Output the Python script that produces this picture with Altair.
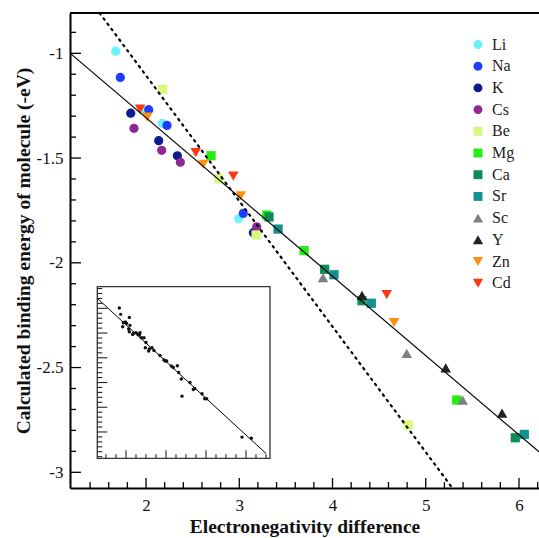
import altair as alt
import pandas as pd

W, H = 469, 475
FONT = "Liberation Serif"

# ---------------- data ----------------
elements = ["Li", "Na", "K", "Cs", "Be", "Mg", "Ca", "Sr", "Sc", "Y", "Zn", "Cd"]
el_colors = ["#6cf2fc", "#1f3dff", "#0b1d8c", "#8e2896", "#d8f97e", "#22ee11",
             "#0e8c55", "#139090", "#808080", "#222222", "#ff8f10", "#fb3a14"]
TRI_UP = "M0,-1L1.15,1L-1.15,1Z"
TRI_DOWN = "M-1.15,-1L1.15,-1L0,1Z"
el_shapes = ["circle"] * 4 + ["square"] * 4 + [TRI_UP] * 2 + [TRI_DOWN] * 2

el_x = {
    "Li": [1.675, 1.973, 2.175, 2.994],
    "Na": [1.724, 2.029, 2.225, 3.043],
    "K":  [1.836, 2.136, 2.336, 3.151],
    "Cs": [1.871, 2.168, 2.368, 3.187],
    "Be": [2.179, 2.780, 3.180, 4.813],
    "Mg": [2.697, 3.294, 3.695, 5.332],
    "Ca": [3.319, 3.916, 4.316, 5.960],
    "Sr": [3.416, 4.016, 4.416, 6.057],
    "Sc": [3.898, 4.796, 5.396],
    "Y":  [4.316, 5.214, 5.818],
    "Zn": [2.014, 2.614, 3.016, 4.660],
    "Cd": [1.936, 2.533, 2.936, 4.581],
}
el_y = {
    "Li": [-0.990, -1.273, -1.334, -1.790],
    "Na": [-1.115, -1.269, -1.344, -1.764],
    "K":  [-1.286, -1.417, -1.489, -1.856],
    "Cs": [-1.358, -1.463, -1.520, -1.828],
    "Be": [-1.172, -1.599, -1.867, -2.774],
    "Mg": [-1.489, -1.772, -1.942, -2.655],
    "Ca": [-1.781, -2.031, -2.181, -2.835],
    "Sr": [-1.839, -2.057, -2.193, -2.819],
    "Sc": [-2.071, -2.432, -2.655],
    "Y":  [-2.155, -2.502, -2.718],
    "Zn": [-1.305, -1.530, -1.681, -2.286],
    "Cd": [-1.266, -1.474, -1.586, -2.152],
}

# fitted lines (end points)
solid_x = [1.1845, 6.2145]
solid_y = [-0.9990, -2.9025]
dotted_x = [1.5020, 5.2854]
dotted_y = [-0.8076, -3.0749]

# axis ticks
x_major = [2, 3, 4, 5, 6]
x_minor = [1.4, 1.6, 1.8, 2.2, 2.4, 2.6, 2.8, 3.2, 3.4, 3.6, 3.8, 4.2, 4.4, 4.6, 4.8,
           5.2, 5.4, 5.6, 5.8, 6.2]
y_major = [-3, -2.5, -2, -1.5, -1]
y_minor = [-2.9, -2.8, -2.7, -2.6, -2.4, -2.3, -2.2, -2.1, -1.9, -1.8, -1.7, -1.6,
           -1.4, -1.3, -1.2, -1.1, -0.9]

# inset data
inset_px = [0.833, 0.867, 1.083, 0.933, 0.983, 1.017, 0.917, 1.100, 1.067, 1.083,
            1.183, 1.167, 1.250, 1.300, 1.350, 1.333, 1.383, 1.450, 1.500, 1.483,
            1.567, 1.583, 1.650, 1.700, 1.850, 1.950, 1.983, 2.017, 2.133, 2.183,
            2.283, 2.317, 2.383, 2.600, 2.683, 2.717, 2.400, 2.900, 2.967, 3.017,
            3.900, 4.133]
inset_py = [-0.988, -1.244, -1.366, -1.582, -1.555, -1.608, -1.743, -1.689, -1.838, -1.946,
            -2.013, -2.054, -1.987, -2.054, -1.987, -2.081, -2.189, -2.189, -2.378, -2.594,
            -2.729, -2.648, -2.594, -2.702, -2.904, -3.093, -3.134, -3.134, -3.336, -3.390,
            -3.323, -3.592, -3.862, -3.997, -4.281, -4.240, -4.551, -4.453, -4.656, -4.656,
            -6.208, -6.251]
inset_line_x = [0.283, 4.5]
inset_line_y = [-0.596, -6.870]
inset_x_dom = [0.2825, 4.6]
inset_y_dom = [-7.065, -0.125]
inset_x_major = [1, 2, 3, 4]
inset_x_minor = [0.5, 0.75, 1.25, 1.5, 1.75, 2.25, 2.5, 2.75, 3.25, 3.5, 3.75, 4.25, 4.5]
inset_y_major = [-6, -5, -4, -3, -2, -1]
inset_y_minor = [-7.0, -6.8, -6.6, -6.4, -6.2, -5.8, -5.6, -5.4, -5.2, -4.8, -4.6, -4.4,
                 -4.2, -3.8, -3.6, -3.4, -3.2, -2.8, -2.6, -2.4, -2.2, -1.8, -1.6, -1.4,
                 -1.2, -0.8, -0.6, -0.4, -0.2]

# ---------------- tables ----------------
pts_df = pd.DataFrame([{"el": e, "x": xv, "y": yv}
                       for e in elements for xv, yv in zip(el_x[e], el_y[e])])
solid_df = pd.DataFrame({"x": solid_x, "y": solid_y})
dotted_df = pd.DataFrame({"x": dotted_x, "y": dotted_y})

# ---------------- main panel ----------------
main_x = alt.Scale(domain=[1.1845, 6.2145], nice=False, zero=False)
main_y = alt.Scale(domain=[-3.0749, -0.8076], nice=False, zero=False)

x_axis = alt.Axis(values=x_major, title="Electronegativity difference", ticks=False, tickSize=0,
                  grid=False, domainColor="black", domainWidth=2,
                  labelFont=FONT, labelFontSize=17, labelColor="#111",
                  labelBaseline="alphabetic", labelPadding=22,
                  titleFont=FONT, titleFontSize=19.5, titleFontWeight="bold", titleColor="#111",
                  titleX=W / 2, titleY=44, titleAlign="center", titleBaseline="alphabetic")
y_axis = alt.Axis(values=y_major, title="Calculated binding energy of molecule (-eV)",
                  ticks=False, tickSize=0, grid=False, domainColor="black", domainWidth=2,
                  labelFont=FONT, labelFontSize=17, labelColor="#111", labelPadding=7,
                  labelExpr="'' + datum.value",
                  titleFont=FONT, titleFontSize=19.5, titleFontWeight="bold", titleColor="#111",
                  titleX=-47, titleY=H / 2, titleAngle=270, titleAlign="center",
                  titleBaseline="middle")

legend = alt.Legend(title=None, orient="none", legendX=400, legendY=23.5, padding=0,
                    labelFont=FONT, labelFontSize=16, labelColor="#222",
                    symbolSize=80, symbolStrokeWidth=0, rowPadding=5.7, labelOffset=6)

top_rule = alt.Chart(pd.DataFrame({"k": [0]})).mark_rule(color="black", strokeWidth=2).encode(
    x=alt.value(0), x2=alt.value(W), y=alt.value(0))

def xticks(vals, length):
    return alt.Chart(pd.DataFrame({"x": vals})).mark_rule(color="black", strokeWidth=1.3).encode(
        x=alt.X("x:Q", scale=main_x, axis=x_axis),
        y=alt.value(H), y2=alt.value(H - length))

def yticks(vals, length):
    return alt.Chart(pd.DataFrame({"y": vals})).mark_rule(color="black", strokeWidth=1.3).encode(
        y=alt.Y("y:Q", scale=main_y, axis=y_axis),
        x=alt.value(0), x2=alt.value(length))

points = alt.Chart(pts_df).mark_point(filled=True, size=85, opacity=1).encode(
    x=alt.X("x:Q", scale=main_x, axis=x_axis),
    y=alt.Y("y:Q", scale=main_y, axis=y_axis),
    color=alt.Color("el:N", scale=alt.Scale(domain=elements, range=el_colors), legend=legend),
    shape=alt.Shape("el:N", scale=alt.Scale(domain=elements, range=el_shapes), legend=legend),
)

solid = alt.Chart(solid_df).mark_line(color="black", strokeWidth=1.2).encode(
    x=alt.X("x:Q", scale=main_x, axis=x_axis),
    y=alt.Y("y:Q", scale=main_y, axis=y_axis))

dotted = alt.Chart(dotted_df).mark_line(color="black", strokeWidth=2.2, strokeDash=[1.6, 5],
                                        strokeCap="round").encode(
    x=alt.X("x:Q", scale=main_x, axis=x_axis),
    y=alt.Y("y:Q", scale=main_y, axis=y_axis))

main = alt.layer(top_rule, xticks(x_minor, 6), xticks(x_major, 10),
                 yticks(y_minor, 6), yticks(y_major, 11), points, solid, dotted)

# ---------------- inset ----------------
INS_L, INS_R, INS_B, INS_T = 27.3, 200, 445.3, 273.7
inset_x = alt.Scale(domain=inset_x_dom, range=[INS_L, INS_R], nice=False, zero=False)
inset_y = alt.Scale(domain=inset_y_dom, range=[INS_B, INS_T], nice=False, zero=False)

frame = alt.Chart(pd.DataFrame({"x": [inset_x_dom[0]], "x2": [inset_x_dom[1]],
                                "y": [inset_y_dom[0]], "y2": [inset_y_dom[1]]})).mark_rect(
    fill="white", stroke="#333", strokeWidth=1.3).encode(
    x=alt.X("x:Q", scale=inset_x, axis=None), x2="x2:Q",
    y=alt.Y("y:Q", scale=inset_y, axis=None), y2="y2:Q")

def ixticks(vals, length):
    return alt.Chart(pd.DataFrame({"x": vals})).mark_rule(color="#222", strokeWidth=1.1).encode(
        x=alt.X("x:Q", scale=inset_x, axis=None),
        y=alt.value(INS_B), y2=alt.value(INS_B - length))

def iyticks(vals, length):
    return alt.Chart(pd.DataFrame({"y": vals})).mark_rule(color="#222", strokeWidth=1.1).encode(
        y=alt.Y("y:Q", scale=inset_y, axis=None),
        x=alt.value(INS_L), x2=alt.value(INS_L + length))

inset_line = alt.Chart(pd.DataFrame({"x": inset_line_x, "y": inset_line_y})).mark_line(
    color="black", strokeWidth=1).encode(
    x=alt.X("x:Q", scale=inset_x, axis=None),
    y=alt.Y("y:Q", scale=inset_y, axis=None))

inset_pts = alt.Chart(pd.DataFrame({"x": inset_px, "y": inset_py})).mark_circle(
    size=12, color="#111", opacity=1).encode(
    x=alt.X("x:Q", scale=inset_x, axis=None),
    y=alt.Y("y:Q", scale=inset_y, axis=None))

inset = alt.layer(frame, ixticks(inset_x_minor, 4), ixticks(inset_x_major, 8),
                  iyticks(inset_y_minor, 5), iyticks(inset_y_major, 10), inset_line, inset_pts)

chart = alt.layer(main, inset).resolve_scale(x="independent", y="independent").properties(
    width=W, height=H,
    padding={"left": 70, "top": 13, "right": 0, "bottom": 50},
    autosize=alt.AutoSizeParams(type="none"),
).configure_view(stroke="transparent").configure(background="white")

chart.save("out.html", embed_options={"renderer": "svg", "actions": False})
